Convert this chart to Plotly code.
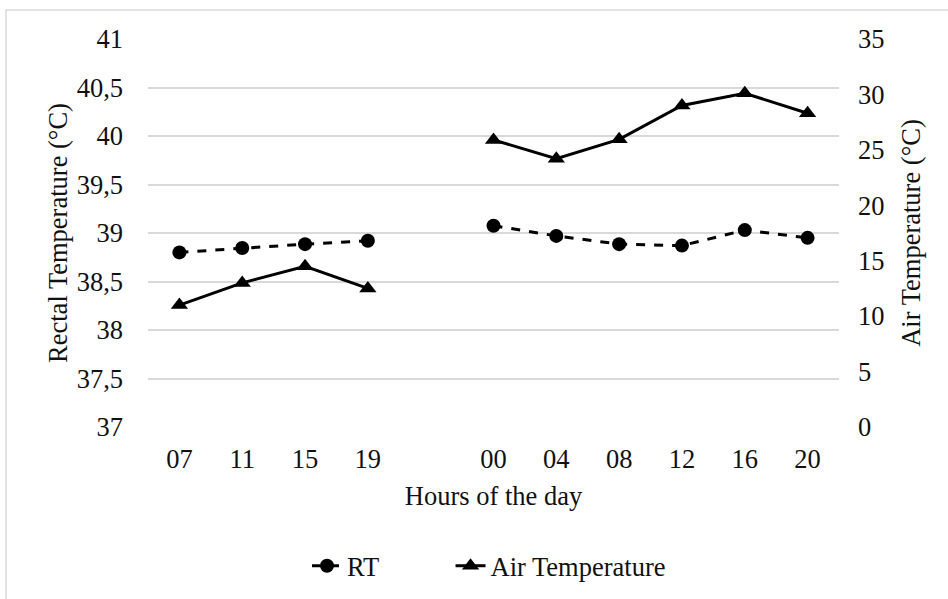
import plotly.graph_objects as go

hours = ["07", "11", "15", "19", " ", "00", "04", "08", "12", "16", "20"]
rt = [38.80, 38.845, 38.885, 38.92, None, 39.075, 38.97, 38.885, 38.87, 39.03, 38.95]
air = [11.0, 13.0, 14.5, 12.5, None, 25.9, 24.2, 25.95, 29.0, 30.1, 28.3]
series_names = ["RT", "Air Temperature"]

W, H = 948, 599
L, R, T, B = 148, 109, 39, 172
pw, ph = W - L - R, H - T - B
font = "Liberation Serif, Times New Roman, serif"
FS = 26.5
NB = "\u00a0"

fig = go.Figure()
fig.add_trace(go.Scatter(
    x=hours, y=rt, name=series_names[0] + NB * 10, mode="lines+markers",
    line=dict(color="black", width=3, dash="dash"),
    marker=dict(symbol="circle", size=14, color="black"),
    connectgaps=False, yaxis="y"))
fig.add_trace(go.Scatter(
    x=hours, y=air, name=series_names[1], mode="lines+markers",
    line=dict(color="black", width=3),
    marker=dict(symbol="triangle-up", size=15, color="black"),
    connectgaps=False, yaxis="y2"))

fig.update_layout(
    width=W, height=H,
    margin=dict(l=L, r=R, t=T, b=B, autoexpand=False),
    paper_bgcolor="white", plot_bgcolor="white",
    font=dict(family=font, size=FS, color="#111111"),
    showlegend=True,
    legend=dict(orientation="h", x=(307 - L) / pw, xanchor="left",
                y=-(566 - T - ph) / ph, yanchor="middle",
                font=dict(size=FS), tracegroupgap=0),
    xaxis=dict(type="category", categoryorder="array", categoryarray=hours,
               range=[-0.5, len(hours) - 0.5],
               showgrid=False, showline=False, ticks="", tickfont=dict(size=FS),
               automargin=False, ticklabelstandoff=13,
               title=dict(text="Hours of the day", font=dict(size=FS), standoff=13)),
    yaxis=dict(range=[37, 41], tickvals=[37, 37.5, 38, 38.5, 39, 39.5, 40, 40.5, 41],
               ticktext=["37", "37,5", "38", "38,5", "39", "39,5", "40", "40,5", "41"],
               showgrid=True, gridcolor="#d9d9d9", gridwidth=1.5, zeroline=False,
               showline=False, ticks="", tickfont=dict(size=FS), ticklabelstandoff=24,
               automargin=False,
               title=dict(text="Rectal Temperature (°C)", font=dict(size=FS), standoff=1)),
    yaxis2=dict(range=[0, 35], tickvals=[0, 5, 10, 15, 20, 25, 30, 35],
                overlaying="y", side="right", showgrid=False, zeroline=False,
                showline=False, ticks="", tickfont=dict(size=FS), ticklabelstandoff=18,
                automargin=False,
                title=dict(text="Air Temperature (°C)", font=dict(size=FS), standoff=17)),
)

# chart-area border (light gray), starting near the top-left corner
x0 = (6 - L) / pw
y1 = (H - 10 - B) / ph
fig.add_shape(type="rect", xref="paper", yref="paper",
              x0=x0, x1=(W + 10 - L) / pw, y0=-(B + 10) / ph, y1=y1,
              line=dict(color="#d9d9d9", width=1.5), fillcolor="rgba(0,0,0,0)", layer="below")

fig.write_html("out.html")
